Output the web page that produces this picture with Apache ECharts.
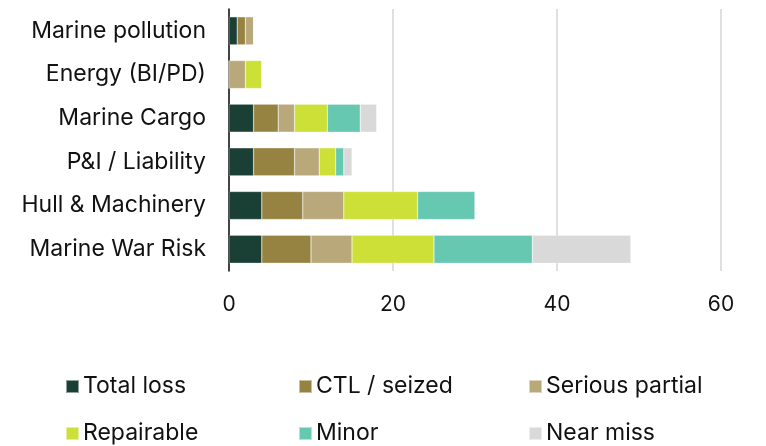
<!DOCTYPE html>
<html>
<head>
<meta charset="utf-8">
<script src="https://cdn.jsdelivr.net/npm/echarts@6/dist/echarts.min.js"></script>
<style>
  html, body { margin: 0; padding: 0; background: #fff; }
  #chart { width: 766px; height: 446px; }
</style>
</head>
<body>
<div id="chart"></div>
<script>
const categories = ['Marine pollution', 'Energy (BI/PD)', 'Marine Cargo', 'P&I / Liability', 'Hull & Machinery', 'Marine War Risk']

const totalLoss = [1, 0, 3, 3, 4, 4]
const ctlSeized = [1, 0, 3, 5, 5, 6]
const seriousPartial = [1, 2, 2, 3, 5, 5]
const repairable = [0, 2, 4, 2, 9, 10]
const minor = [0, 0, 4, 1, 7, 12]
const nearMiss = [0, 0, 2, 1, 0, 12]

const seriesNames = ['Total loss', 'CTL / seized', 'Serious partial', 'Repairable', 'Minor', 'Near miss']
const seriesData = [totalLoss, ctlSeized, seriousPartial, repairable, minor, nearMiss]
const colors = ['#1a4036', '#978341', '#b9a87a', '#cce038', '#66c8b0', '#d9d9d9']

const xTicks = { min: 0, max: 60, interval: 20 }

const font = 'Inter, "Noto Sans", sans-serif'

// legend is laid out as a 3 x 2 grid, one legend per entry
const legendPos = [
  [65, 375], [298, 375], [528, 375],
  [65, 422], [298, 422], [528, 422],
]

var chart = echarts.init(document.getElementById('chart'))

var option = {
  backgroundColor: '#fff',
  animation: false,
  color: colors,
  grid: {
    left: 229,
    right: 45,
    top: 9,
    height: 262,
  },
  legend: seriesNames.map(function (name, i) {
    return {
      data: [name],
      left: legendPos[i][0],
      top: legendPos[i][1],
      icon: 'rect',
      itemWidth: 13,
      itemHeight: 13,
      itemGap: 7,
      padding: 0,
      textStyle: { fontFamily: font, fontSize: 23, color: '#111', padding: [0, 0, 0, -1] },
    }
  }),
  xAxis: {
    type: 'value',
    min: xTicks.min,
    max: xTicks.max,
    interval: xTicks.interval,
    axisLine: { show: false },
    axisTick: { show: false },
    axisLabel: { fontFamily: font, fontSize: 21, color: '#111', margin: 23 },
    splitLine: { lineStyle: { color: '#d6d6d6', width: 1.5 } },
  },
  yAxis: {
    type: 'category',
    data: categories,
    inverse: true,
    axisLine: { lineStyle: { color: '#111', width: 1.5 } },
    axisTick: { show: false },
    axisLabel: { fontFamily: font, fontSize: 23, color: '#111', margin: 23 },
  },
  series: seriesData.map(function (values, i) {
    return {
      name: seriesNames[i],
      type: 'bar',
      stack: 'total',
      barWidth: 28,
      data: values,
      itemStyle: { borderColor: 'rgba(255,255,255,0.5)', borderWidth: 0.5 },
    }
  }),
}

chart.setOption(option)
</script>
</body>
</html>
